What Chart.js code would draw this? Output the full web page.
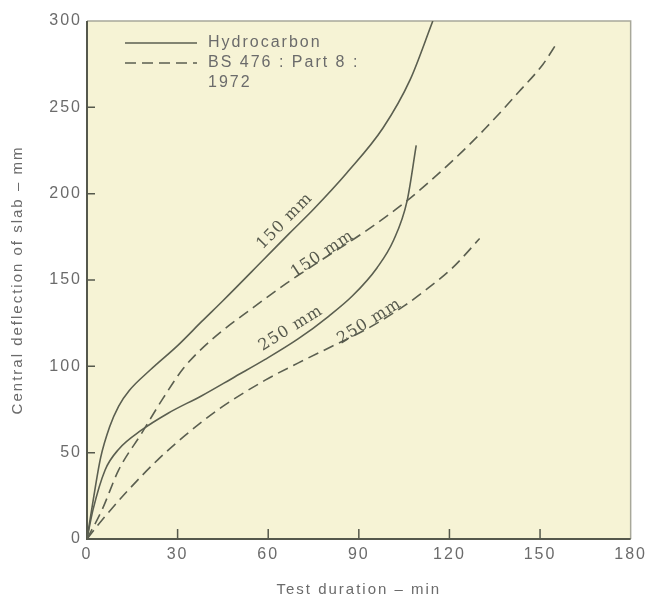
<!DOCTYPE html>
<html>
<head>
<meta charset="utf-8">
<script src="https://cdn.jsdelivr.net/npm/chart.js@4.4.0/dist/chart.umd.min.js"></script>
<style>
  body { margin: 0; background: #ffffff; }
</style>
</head>
<body>
<canvas id="deflection-chart" width="650" height="602"></canvas>
<script>
// Test duration (min) / central deflection (mm)
const hydro150T = [0, 2, 4.5, 7.5, 10.5, 14, 21, 30, 38, 45, 58, 67, 75, 86, 98, 107, 114.5];
const hydro150D = [0, 22, 47, 65, 77, 86, 98, 112, 126, 138, 161, 177, 191, 212, 238, 266, 300];

const hydro250T = [0, 2, 6, 10.5, 18, 27, 38, 49, 59, 70, 80, 88, 96, 101.5, 106, 109];
const hydro250D = [0, 17, 40, 52, 63, 73, 83, 94, 104, 116, 129, 141, 157, 173, 196, 228];

const bs150T = [0, 5, 10.5, 18, 25, 32, 41, 55, 66, 78, 92, 106, 121, 132, 143, 151, 155.5];
const bs150D = [0, 17, 40, 61, 81, 99, 115, 134, 148, 162, 178, 196, 219, 238, 259, 275, 287];

const bs250T = [0, 5, 13.5, 23.5, 32.5, 43.5, 59, 70, 81, 93, 105, 112, 121, 130];
const bs250D = [0, 11, 28, 46, 60, 75, 92, 102, 111.5, 122, 135, 144, 157, 174];

const xTicks = [0, 30, 60, 90, 120, 150, 180];
const yTicks = [0, 50, 100, 150, 200, 250, 300];

const legendNames = ['Hydrocarbon', 'BS 476 : Part 8 :', '1972'];

// labels written along the curves (series index + where the text sits)
const curveLabels = [
    { text: '150 mm', series: 0, t: 65.5, d: 184 },
    { text: '250 mm', series: 1, t: 67.5, d: 122 },
    { text: '150 mm', series: 2, t: 78, d: 165 },
    { text: '250 mm', series: 3, t: 93.5, d: 126 }
];

const lineColor = '#5b5f50';
const textColor = '#6b6b6b';
const dashPattern = [11, 6];

function toPoints(ts, ds) {
    return ts.map((t, i) => ({ x: t, y: ds[i] }));
}

function makeSet(label, ts, ds, dashed) {
    return {
        label: label,
        data: toPoints(ts, ds),
        borderColor: lineColor,
        borderWidth: 1.6,
        borderDash: dashed ? dashPattern : [],
        pointRadius: 0,
        fill: false,
        cubicInterpolationMode: 'monotone'
    };
}

const plotBg = {
    id: 'plotBg',
    beforeDraw(chart) {
        const { ctx, chartArea: a } = chart;
        ctx.save();
        ctx.fillStyle = '#f6f3d5';
        ctx.fillRect(a.left, a.top, a.right - a.left, a.bottom - a.top);
        ctx.restore();
        ctx.letterSpacing = '2px'; // the printed lettering is widely spaced
    }
};

const frameTicks = {
    id: 'frameTicks',
    beforeDatasetsDraw(chart) {
        const { ctx, chartArea: a, scales } = chart;
        ctx.save();
        // light top / right border
        ctx.strokeStyle = '#a8a89a';
        ctx.lineWidth = 1.5;
        ctx.beginPath();
        ctx.moveTo(a.left, a.top);
        ctx.lineTo(a.right, a.top);
        ctx.lineTo(a.right, a.bottom);
        ctx.stroke();
        // darker axes
        ctx.strokeStyle = '#55584c';
        ctx.lineWidth = 2;
        ctx.beginPath();
        ctx.moveTo(a.left, a.top);
        ctx.lineTo(a.left, a.bottom);
        ctx.lineTo(a.right, a.bottom);
        ctx.stroke();
        // inward tick marks
        ctx.lineWidth = 1.5;
        ctx.beginPath();
        yTicks.slice(1, -1).forEach(v => {
            const py = scales.y.getPixelForValue(v);
            ctx.moveTo(a.left, py);
            ctx.lineTo(a.left + 8, py);
        });
        xTicks.slice(1, -1).forEach(v => {
            const px = scales.x.getPixelForValue(v);
            ctx.moveTo(px, a.bottom);
            ctx.lineTo(px, a.bottom - 10);
        });
        ctx.stroke();
        ctx.restore();
    }
};

const curveText = {
    id: 'curveText',
    afterDatasetsDraw(chart) {
        const { ctx, scales } = chart;
        ctx.save();
        ctx.font = '16px "DejaVu Serif"';
        ctx.letterSpacing = '1px';
        ctx.fillStyle = '#55584c';
        ctx.textAlign = 'center';
        ctx.textBaseline = 'middle';
        curveLabels.forEach(lab => {
            const pts = chart.data.datasets[lab.series].data;
            let i = 0;
            while (i < pts.length - 2 && pts[i + 1].x < lab.t) i++;
            const x1 = scales.x.getPixelForValue(pts[i].x), y1 = scales.y.getPixelForValue(pts[i].y);
            const x2 = scales.x.getPixelForValue(pts[i + 1].x), y2 = scales.y.getPixelForValue(pts[i + 1].y);
            const angle = Math.atan2(y2 - y1, x2 - x1);
            ctx.save();
            ctx.translate(scales.x.getPixelForValue(lab.t), scales.y.getPixelForValue(lab.d));
            ctx.rotate(angle);
            ctx.fillText(lab.text, 0, 0);
            ctx.restore();
        });
        ctx.restore();
    }
};

const legendBox = {
    id: 'legendBox',
    afterDraw(chart) {
        const { ctx, chartArea: a } = chart;
        const lx = a.left + 38, ly = a.top + 22;
        ctx.save();
        ctx.strokeStyle = lineColor;
        ctx.lineWidth = 1.6;
        ctx.beginPath();
        ctx.moveTo(lx, ly);
        ctx.lineTo(lx + 72, ly);
        ctx.stroke();
        ctx.setLineDash(dashPattern);
        ctx.beginPath();
        ctx.moveTo(lx, ly + 20);
        ctx.lineTo(lx + 72, ly + 20);
        ctx.stroke();
        ctx.font = '16px "Liberation Sans"';
        ctx.letterSpacing = '2px';
        ctx.fillStyle = textColor;
        ctx.textBaseline = 'middle';
        legendNames.forEach((name, i) => {
            ctx.fillText(name, lx + 83, ly + i * 20);
        });
        ctx.restore();
    }
};

const ctx = document.getElementById('deflection-chart').getContext('2d');
new Chart(ctx, {
    type: 'line',
    data: {
        datasets: [
            makeSet('Hydrocarbon 150 mm', hydro150T, hydro150D, false),
            makeSet('Hydrocarbon 250 mm', hydro250T, hydro250D, false),
            makeSet('BS 476 150 mm', bs150T, bs150D, true),
            makeSet('BS 476 250 mm', bs250T, bs250D, true)
        ]
    },
    options: {
        responsive: false,
        animation: false,
        layout: { padding: { top: 21, right: 19, left: 0, bottom: 0 } },
        plugins: {
            legend: { display: false },
            tooltip: { enabled: false }
        },
        scales: {
            x: {
                type: 'linear',
                min: 0,
                max: 180,
                afterBuildTicks: scale => { scale.ticks = xTicks.map(v => ({ value: v })); },
                afterFit: scale => { scale.height = 63; },
                grid: { display: false, drawTicks: false },
                border: { display: false },
                ticks: {
                    padding: 6,
                    color: textColor,
                    font: { family: 'Liberation Sans', size: 16 },
                    maxRotation: 0
                },
                title: {
                    display: true,
                    text: 'Test duration – min',
                    color: textColor,
                    font: { family: 'Liberation Sans', size: 15 },
                    padding: { top: 0, bottom: 3 }
                }
            },
            y: {
                type: 'linear',
                min: 0,
                max: 300,
                afterBuildTicks: scale => { scale.ticks = yTicks.map(v => ({ value: v })); },
                afterFit: scale => { scale.width = 87; },
                grid: { display: false, drawTicks: false },
                border: { display: false },
                ticks: {
                    padding: 5,
                    color: textColor,
                    font: { family: 'Liberation Sans', size: 16 }
                },
                title: {
                    display: true,
                    text: 'Central deflection of slab – mm',
                    color: textColor,
                    font: { family: 'Liberation Sans', size: 15 },
                    padding: { top: 9, bottom: 0 }
                }
            }
        }
    },
    plugins: [plotBg, frameTicks, curveText, legendBox]
});
</script>
</body>
</html>
